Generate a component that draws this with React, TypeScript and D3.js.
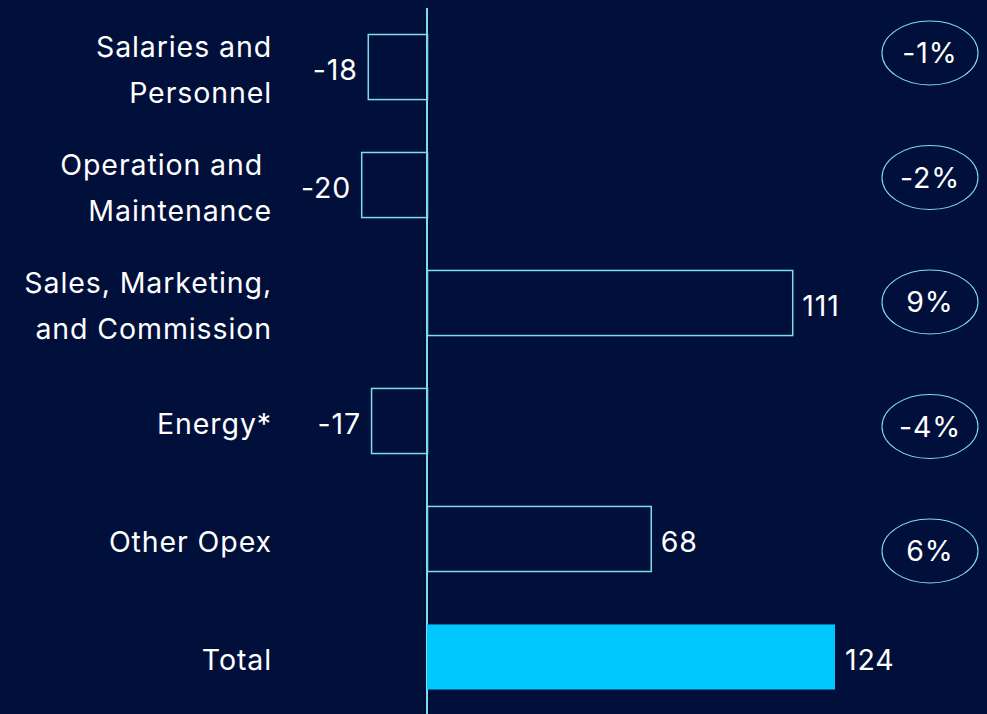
import React, { useEffect, useRef } from "react";
import * as d3 from "d3";

const categories = [
  ["Salaries and", "Personnel"],
  ["Operation and ", "Maintenance"],
  ["Sales, Marketing,", "and Commission"],
  ["Energy*"],
  ["Other Opex"],
  ["Total"],
];
const values = [-18, -20, 111, -17, 68, 124];
const changes = ["-1%", "-2%", "9%", "-4%", "6%"];

const BG = "#010f3b";
const LINE = "#7fdde6";
const FILL = "#00c8ff";
const FONT = "Inter, 'Noto Sans', sans-serif";

export default function App() {
  const ref = useRef<SVGSVGElement>(null);

  useEffect(() => {
    document.body.style.margin = "0";
    const width = 987;
    const height = 714;
    const svg = d3.select(ref.current);
    svg.selectAll("*").remove();

    svg.append("rect").attr("width", width).attr("height", height).attr("fill", BG);

    const x = d3.scaleLinear().domain([0, 124]).range([427, 835]);
    const y = d3
      .scaleBand<number>()
      .domain(d3.range(values.length))
      .range([34, 690])
      .paddingInner(0.44)
      .paddingOuter(0);

    // axis line
    svg
      .append("line")
      .attr("x1", x(0))
      .attr("x2", x(0))
      .attr("y1", 8)
      .attr("y2", height)
      .attr("stroke", LINE)
      .attr("stroke-width", 2);

    const bh = y.bandwidth();
    const cy = (i: number) => y(i)! + bh / 2;
    const txt = (sel: d3.Selection<SVGTextElement, unknown, null, undefined>) =>
      sel
        .attr("fill", "#ffffff")
        .style("font-family", FONT)
        .style("font-size", "28.5px")
        .style("letter-spacing", "0.9px");

    values.forEach((v, i) => {
      const total = i === values.length - 1;
      svg
        .append("rect")
        .attr("x", Math.min(x(0), x(v)) + (total ? 0 : 0.5))
        .attr("y", y(i)! + 0.5)
        .attr("width", Math.abs(x(v) - x(0)))
        .attr("height", bh - 1)
        .attr("fill", total ? FILL : "none")
        .attr("stroke", total ? "none" : LINE)
        .attr("stroke-width", 1.5);

      svg
        .append("text")
        .call(txt)
        .attr("x", v < 0 ? x(v) - 10 : x(v) + 10)
        .attr("y", cy(i))
        .attr("dy", "0.47em")
        .attr("text-anchor", v < 0 ? "end" : "start")
        .text(v);

      const lines = categories[i];
      const t = svg
        .append("text")
        .call(txt)
        .attr("text-anchor", "end");
      lines.forEach((l, k) => {
        t.append("tspan")
          .attr("x", 272)
          .attr("y", cy(i) + (k - (lines.length - 1) / 2) * 46)
          .attr("dy", "0.47em")
          .style("white-space", "pre")
          .text(l);
      });
    });

    const ey = d3.scalePoint<number>().domain(d3.range(changes.length)).range([53, 551]);
    changes.forEach((c, i) => {
      svg
        .append("ellipse")
        .attr("cx", 930)
        .attr("cy", ey(i)!)
        .attr("rx", 48)
        .attr("ry", 32)
        .attr("fill", "none")
        .attr("stroke", LINE)
        .attr("stroke-width", 1.1);
      svg
        .append("text")
        .call(txt)
        .attr("x", 930)
        .attr("y", ey(i)!)
        .attr("dy", "0.36em")
        .attr("text-anchor", "middle")
        .text(c);
    });
  }, []);

  return (
    <div style={{ width: 987, height: 714, background: BG }}>
      <svg ref={ref} width={987} height={714} style={{ display: "block" }} />
    </div>
  );
}
